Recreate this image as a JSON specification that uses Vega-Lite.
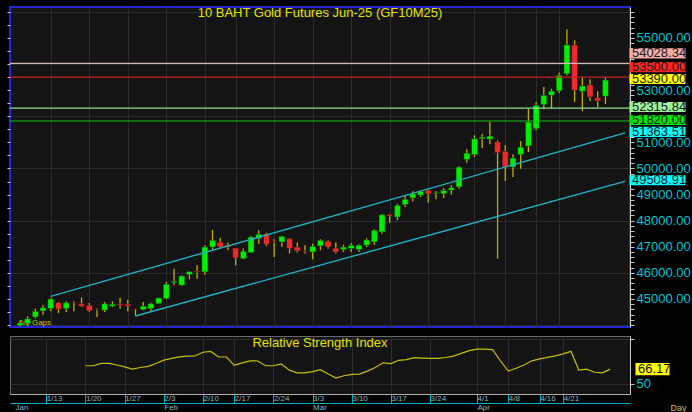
{
  "$schema": "https://vega.github.io/schema/vega-lite/v6.json",
  "background": "#000000",
  "padding": {"left": 5, "top": 4, "right": 3, "bottom": 0},
  "spacing": 1,
  "config": {
    "font": "Liberation Sans",
    "view": {"fill": "#141414", "stroke": null},
    "axis": {"labelFont": "Liberation Sans", "titleFont": "Liberation Sans"}
  },
  "datasets": {
    "ohlc": [
      {"i":0,"date":"2025-01-07","o":43980,"h":44150,"l":43950,"c":44080},
      {"i":1,"date":"2025-01-08","o":44054,"h":44337,"l":43966,"c":44245},
      {"i":2,"date":"2025-01-09","o":44310,"h":44630,"l":44250,"c":44530},
      {"i":3,"date":"2025-01-10","o":44540,"h":44760,"l":44400,"c":44670},
      {"i":4,"date":"2025-01-13","o":44630,"h":45050,"l":44530,"c":45000},
      {"i":5,"date":"2025-01-14","o":44860,"h":44890,"l":44460,"c":44600},
      {"i":6,"date":"2025-01-15","o":44628,"h":44910,"l":44500,"c":44858},
      {"i":7,"date":"2025-01-16","o":44870,"h":44910,"l":44530,"c":44850},
      {"i":8,"date":"2025-01-17","o":44820,"h":45050,"l":44690,"c":44720},
      {"i":9,"date":"2025-01-20","o":44760,"h":44846,"l":44500,"c":44540},
      {"i":10,"date":"2025-01-21","o":44600,"h":44640,"l":44310,"c":44580},
      {"i":11,"date":"2025-01-22","o":44567,"h":44885,"l":44500,"c":44820},
      {"i":12,"date":"2025-01-23","o":44720,"h":44910,"l":44690,"c":44800},
      {"i":13,"date":"2025-01-24","o":44820,"h":45050,"l":44628,"c":44760},
      {"i":14,"date":"2025-01-27","o":44800,"h":44970,"l":44530,"c":44720},
      {"i":15,"date":"2025-01-28","o":44620,"h":44640,"l":44350,"c":44600},
      {"i":16,"date":"2025-01-29","o":44590,"h":44885,"l":44570,"c":44730},
      {"i":17,"date":"2025-01-30","o":44628,"h":44860,"l":44530,"c":44820},
      {"i":18,"date":"2025-01-31","o":44820,"h":45065,"l":44810,"c":45040},
      {"i":19,"date":"2025-02-03","o":45010,"h":45650,"l":44990,"c":45563},
      {"i":20,"date":"2025-02-04","o":45625,"h":46160,"l":45525,"c":45680},
      {"i":21,"date":"2025-02-05","o":45525,"h":45910,"l":45500,"c":45880},
      {"i":22,"date":"2025-02-06","o":45930,"h":46060,"l":45755,"c":46050},
      {"i":23,"date":"2025-02-07","o":46070,"h":46290,"l":45780,"c":46035},
      {"i":24,"date":"2025-02-10","o":46035,"h":47060,"l":45930,"c":46990},
      {"i":25,"date":"2025-02-11","o":46990,"h":47650,"l":46890,"c":47250},
      {"i":26,"date":"2025-02-13","o":47180,"h":47350,"l":46930,"c":46990},
      {"i":27,"date":"2025-02-14","o":47060,"h":47160,"l":46870,"c":46990},
      {"i":28,"date":"2025-02-17","o":46950,"h":46950,"l":46290,"c":46570},
      {"i":29,"date":"2025-02-18","o":46545,"h":46930,"l":46520,"c":46830},
      {"i":30,"date":"2025-02-19","o":46775,"h":47410,"l":46775,"c":47375},
      {"i":31,"date":"2025-02-20","o":47310,"h":47630,"l":47120,"c":47480},
      {"i":32,"date":"2025-02-21","o":47500,"h":47540,"l":47030,"c":47095},
      {"i":33,"date":"2025-02-24","o":47200,"h":47290,"l":46610,"c":47180},
      {"i":34,"date":"2025-02-25","o":47185,"h":47420,"l":46990,"c":47400},
      {"i":35,"date":"2025-02-26","o":47310,"h":47340,"l":46740,"c":46930},
      {"i":36,"date":"2025-02-27","o":46990,"h":47160,"l":46780,"c":46840},
      {"i":37,"date":"2025-02-28","o":46840,"h":47060,"l":46740,"c":46810},
      {"i":38,"date":"2025-03-03","o":46800,"h":47120,"l":46520,"c":47020},
      {"i":39,"date":"2025-03-04","o":47030,"h":47290,"l":46870,"c":47250},
      {"i":40,"date":"2025-03-05","o":47210,"h":47250,"l":46930,"c":46990},
      {"i":41,"date":"2025-03-06","o":46950,"h":47160,"l":46740,"c":46800},
      {"i":42,"date":"2025-03-07","o":46890,"h":47080,"l":46800,"c":46990},
      {"i":43,"date":"2025-03-10","o":46930,"h":47145,"l":46800,"c":47060},
      {"i":44,"date":"2025-03-11","o":46890,"h":47100,"l":46800,"c":47060},
      {"i":45,"date":"2025-03-12","o":47060,"h":47330,"l":46990,"c":47260},
      {"i":46,"date":"2025-03-13","o":47185,"h":47670,"l":47080,"c":47630},
      {"i":47,"date":"2025-03-14","o":47570,"h":48256,"l":47500,"c":48230},
      {"i":48,"date":"2025-03-17","o":48230,"h":48260,"l":47920,"c":48170},
      {"i":49,"date":"2025-03-18","o":48140,"h":48650,"l":48015,"c":48590},
      {"i":50,"date":"2025-03-19","o":48610,"h":48970,"l":48520,"c":48820},
      {"i":51,"date":"2025-03-20","o":48870,"h":49125,"l":48740,"c":49030},
      {"i":52,"date":"2025-03-21","o":48970,"h":49165,"l":48910,"c":49125},
      {"i":53,"date":"2025-03-24","o":49165,"h":49200,"l":48690,"c":49030},
      {"i":54,"date":"2025-03-25","o":49035,"h":49125,"l":48820,"c":49070},
      {"i":55,"date":"2025-03-26","o":49030,"h":49250,"l":48870,"c":49165},
      {"i":56,"date":"2025-03-27","o":49165,"h":49355,"l":48995,"c":49265},
      {"i":57,"date":"2025-03-28","o":49290,"h":50095,"l":49225,"c":50055},
      {"i":58,"date":"2025-03-31","o":50340,"h":50735,"l":50220,"c":50590},
      {"i":59,"date":"2025-04-01","o":50530,"h":51270,"l":50440,"c":51140},
      {"i":60,"date":"2025-04-02","o":51140,"h":51330,"l":50785,"c":51205},
      {"i":61,"date":"2025-04-03","o":51120,"h":51780,"l":50925,"c":51245},
      {"i":62,"date":"2025-04-04","o":51015,"h":51080,"l":46545,"c":50605},
      {"i":63,"date":"2025-04-08","o":50660,"h":50890,"l":49520,"c":50055},
      {"i":64,"date":"2025-04-09","o":50055,"h":50545,"l":49675,"c":50400},
      {"i":65,"date":"2025-04-10","o":50530,"h":51050,"l":49990,"c":50820},
      {"i":66,"date":"2025-04-11","o":50860,"h":52290,"l":50630,"c":51780},
      {"i":67,"date":"2025-04-16","o":51525,"h":52550,"l":51460,"c":52420},
      {"i":68,"date":"2025-04-17","o":52445,"h":53120,"l":52270,"c":52805},
      {"i":69,"date":"2025-04-18","o":52805,"h":53055,"l":52320,"c":52970},
      {"i":70,"date":"2025-04-21","o":52970,"h":53670,"l":52890,"c":53570},
      {"i":71,"date":"2025-04-22","o":53630,"h":55330,"l":53570,"c":54740},
      {"i":72,"date":"2025-04-23","o":54740,"h":54910,"l":52550,"c":52995},
      {"i":73,"date":"2025-04-24","o":52955,"h":53505,"l":52190,"c":53160},
      {"i":74,"date":"2025-04-25","o":53210,"h":53415,"l":52585,"c":52740},
      {"i":75,"date":"2025-04-28","o":52710,"h":52960,"l":52355,"c":52585},
      {"i":76,"date":"2025-04-29","o":52765,"h":53505,"l":52470,"c":53390}
    ],
    "rsi": [
      {"i":9,"rsi":69.97},{"i":10,"rsi":69.97},{"i":11,"rsi":72.64},{"i":12,"rsi":72.64},
      {"i":13,"rsi":70.83},{"i":14,"rsi":68.64},{"i":15,"rsi":66.26},{"i":16,"rsi":67.98},
      {"i":17,"rsi":69.31},{"i":18,"rsi":72.54},{"i":19,"rsi":76.26},{"i":20,"rsi":78.16},
      {"i":21,"rsi":79.97},{"i":22,"rsi":80.73},{"i":23,"rsi":80.92},{"i":24,"rsi":85.11},
      {"i":25,"rsi":86.06},{"i":26,"rsi":79.78},{"i":27,"rsi":79.78},{"i":28,"rsi":70.36},
      {"i":29,"rsi":73.12},{"i":30,"rsi":75.49},{"i":31,"rsi":75.30},{"i":32,"rsi":69.97},
      {"i":33,"rsi":69.97},{"i":34,"rsi":72.07},{"i":35,"rsi":65.12},{"i":36,"rsi":61.98},
      {"i":37,"rsi":61.89},{"i":38,"rsi":63.31},{"i":39,"rsi":65.60},{"i":40,"rsi":60.74},
      {"i":41,"rsi":56.18},{"i":42,"rsi":58.74},{"i":43,"rsi":60.36},{"i":44,"rsi":60.55},
      {"i":45,"rsi":63.88},{"i":46,"rsi":68.07},{"i":47,"rsi":73.21},{"i":48,"rsi":72.35},
      {"i":49,"rsi":76.07},{"i":50,"rsi":76.92},{"i":51,"rsi":79.02},{"i":52,"rsi":78.54},
      {"i":53,"rsi":78.25},{"i":54,"rsi":78.25},{"i":55,"rsi":79.21},{"i":56,"rsi":80.82},
      {"i":57,"rsi":83.87},{"i":58,"rsi":87.01},{"i":59,"rsi":88.72},{"i":60,"rsi":88.72},
      {"i":61,"rsi":88.15},{"i":62,"rsi":75.30},{"i":63,"rsi":63.88},{"i":64,"rsi":67.21},
      {"i":65,"rsi":70.83},{"i":66,"rsi":75.49},{"i":67,"rsi":77.59},{"i":68,"rsi":79.40},
      {"i":69,"rsi":81.01},{"i":70,"rsi":83.39},{"i":71,"rsi":86.15},{"i":72,"rsi":65.12},
      {"i":73,"rsi":66.17},{"i":74,"rsi":62.65},{"i":75,"rsi":61.98},{"i":76,"rsi":66.17}
    ],
    "levels": [
      {"name":"Resistance 2","price":54028.34},
      {"name":"Resistance 1","price":53500},
      {"name":"Support 1","price":52315.84},
      {"name":"Support 2","price":51820}
    ],
    "channel": [
      {"name":"Upper channel","i":4,"price":45103},
      {"name":"Upper channel","i":78.54,"price":51363.51},
      {"name":"Lower channel","i":15,"price":44349},
      {"name":"Lower channel","i":78.54,"price":49508.91}
    ],
    "tags": [
      {"name":"Resistance 2","price":54028.34},
      {"name":"Resistance 1","price":53500},
      {"name":"Last","price":53390},
      {"name":"Support 1","price":52315.84},
      {"name":"Support 2","price":51820},
      {"name":"Upper channel","price":51363.51},
      {"name":"Lower channel","price":49508.91}
    ],
    "rsiTag": [{"name":"RSI","rsi":66.17}]
  },
  "vconcat": [
    {
      "width": 620,
      "height": 320,
      "view": {"fill": "#141414", "stroke": "#2626d8", "strokeWidth": 2},
      "title": {"text": "10 BAHT Gold Futures Jun-25 (GF10M25)", "color": "#e3e300", "fontSize": 13, "fontWeight": "normal", "anchor": "middle", "baseline": "top", "offset": -14},
      "resolve": {"axis": {"y": "independent"}},
      "layer": [
        {
          "data": {"name": "ohlc"},
          "mark": {"type": "rule", "color": "#c4b000", "strokeWidth": 1.3},
          "encoding": {
            "x": {"field": "i", "type": "quantitative", "scale": {"domain": [-0.64, 78.54], "nice": false, "zero": false},
              "axis": {"orient": "bottom", "values": [4,9,14,19,24,28,33,38,43,48,53,59,63,67,70], "labels": false, "ticks": false, "domain": false, "grid": true, "gridColor": "#2c2c2c", "title": "No Gaps", "titleX": 9, "titleY": -3, "titleAlign": "left", "titleBaseline": "alphabetic", "titleColor": "#c8c800", "titleFontSize": 8, "titleFontWeight": "normal"}},
            "y": {"field": "l", "type": "quantitative", "scale": {"domain": [43927, 56187], "nice": false, "zero": false},
              "axis": {"orient": "left", "values": [44000,44500,45000,45500,46000,46500,47000,47500,48000,48500,49000,49500,50000,50500,51000,51500,52000,52500,53000,53500,54000,54500,55000,55500,56000], "labels": false, "domain": false, "grid": false, "tickSize": 3, "tickColor": "#c8c8c8", "title": null}},
            "y2": {"field": "h"}
          }
        },
        {
          "data": {"name": "ohlc"},
          "mark": {"type": "bar", "width": 6, "stroke": "#0a0a0a", "strokeWidth": 0.4},
          "encoding": {
            "x": {"field": "i", "type": "quantitative", "scale": {"domain": [-0.64, 78.54], "nice": false, "zero": false}},
            "y": {"field": "o", "type": "quantitative", "scale": {"domain": [43927, 56187], "nice": false, "zero": false},
              "axis": {"orient": "right", "values": [44000,44200,44400,44600,44800,45000,45200,45400,45600,45800,46000,46200,46400,46600,46800,47000,47200,47400,47600,47800,48000,48200,48400,48600,48800,49000,49200,49400,49600,49800,50000,50200,50400,50600,50800,51000,51200,51400,51600,51800,52000,52200,52400,52600,52800,53000,53200,53400,53600,53800,54000,54200,54400,54600,54800,55000,55200,55400,55600,55800,56000],
                "labelExpr": "(datum.value % 1000 === 0 && datum.value >= 45000 && datum.value <= 55000 && datum.value != 52000 && datum.value != 54000) ? format(datum.value, '.2f') : ''",
                "labelColor": "#00c6d2", "labelFontSize": 13, "labelPadding": 2, "labelOverlap": false, "labelBound": false, "labelFlush": false,
                "tickSize": 4, "tickColor": "#c8c8c8", "domainColor": "#d0d0d0",
                "grid": true, "gridColor": "#2c2c2c", "gridOpacity": {"condition": {"test": "datum.value % 2000 === 0", "value": 1}, "value": 0},
                "title": null}},
            "y2": {"field": "c"},
            "color": {"condition": {"test": "datum.c >= datum.o", "value": "#00ee00"}, "value": "#ee2a2a"}
          }
        },
        {
          "data": {"name": "levels"},
          "mark": {"type": "rule", "strokeWidth": 1.2},
          "encoding": {
            "y": {"field": "price", "type": "quantitative", "scale": {"domain": [43927, 56187], "nice": false, "zero": false}, "axis": null},
            "stroke": {"field": "name", "type": "nominal", "legend": null,
              "scale": {"domain": ["Resistance 2","Resistance 1","Support 1","Support 2","Upper channel","Lower channel"], "range": ["#d8b4b4","#c42020","#8fe08f","#12c012","#20b0c2","#20b0c2"]}}
          }
        },
        {
          "data": {"name": "channel"},
          "mark": {"type": "line", "strokeWidth": 1.4},
          "encoding": {
            "x": {"field": "i", "type": "quantitative", "scale": {"domain": [-0.64, 78.54], "nice": false, "zero": false}},
            "y": {"field": "price", "type": "quantitative", "scale": {"domain": [43927, 56187], "nice": false, "zero": false}, "axis": null},
            "stroke": {"field": "name", "type": "nominal", "legend": null}
          }
        },
        {
          "data": {"name": "tags"},
          "transform": [{"filter": "datum.name == 'Resistance 2' || datum.name == 'Resistance 1'"}],
          "layer": [
            {"mark": {"type": "point", "shape": "M-1,-0.18L1,-0.18L1,0.18L-1,0.18Z", "size": 3136, "filled": true, "opacity": 1, "yOffset": -10}},
            {"mark": {"type": "text", "align": "left", "baseline": "middle", "fontSize": 13, "color": "#1a1a1a", "yOffset": -10},
             "encoding": {"x": {"datum": 79.44, "type": "quantitative"}, "text": {"field": "price", "type": "quantitative", "format": ".2f"}, "fill": {"value": "#1a1a1a"}}}
          ],
          "encoding": {
            "x": {"datum": 82.76, "type": "quantitative", "scale": {"domain": [-0.64, 78.54], "nice": false, "zero": false}},
            "y": {"field": "price", "type": "quantitative", "scale": {"domain": [43927, 56187], "nice": false, "zero": false}, "axis": null},
            "fill": {"field": "name", "type": "nominal", "legend": null,
              "scale": {"domain": ["Resistance 2","Resistance 1","Last","Support 1","Support 2","Upper channel","Lower channel"], "range": ["#f6aca4","#ff2424","#ffff00","#9af29a","#00e400","#00ffff","#00ffff"]}}
          }
        },
        {
          "data": {"name": "tags"},
          "transform": [{"filter": "datum.name != 'Resistance 2' && datum.name != 'Resistance 1'"}],
          "layer": [
            {"mark": {"type": "point", "shape": "M-1,-0.18L1,-0.18L1,0.18L-1,0.18Z", "size": 3136, "filled": true, "opacity": 1, "yOffset": -1}},
            {"mark": {"type": "text", "align": "left", "baseline": "middle", "fontSize": 13, "yOffset": -1},
             "encoding": {"x": {"datum": 79.44, "type": "quantitative"}, "text": {"field": "price", "type": "quantitative", "format": ".2f"}, "fill": {"value": "#1a1a1a"}}}
          ],
          "encoding": {
            "x": {"datum": 82.76, "type": "quantitative", "scale": {"domain": [-0.64, 78.54], "nice": false, "zero": false}},
            "y": {"field": "price", "type": "quantitative", "scale": {"domain": [43927, 56187], "nice": false, "zero": false}, "axis": null},
            "fill": {"field": "name", "type": "nominal", "legend": null}
          }
        }
      ]
    },
    {
      "width": 620,
      "height": 58,
      "view": {"fill": "#141414", "stroke": "#6a6a6a", "strokeWidth": 1},
      "title": {"text": "Relative Strength Index", "color": "#e3e300", "fontSize": 13, "fontWeight": "normal", "anchor": "middle", "baseline": "top", "offset": -14},
      "resolve": {"axis": {"x": "independent", "y": "independent"}},
      "layer": [
        {
          "data": {"name": "rsi"},
          "mark": {"type": "line", "color": "#c8c000", "strokeWidth": 1.2},
          "encoding": {
            "x": {"field": "i", "type": "quantitative", "scale": {"domain": [-0.64, 78.54], "nice": false, "zero": false},
              "axis": {"orient": "bottom", "values": [4,9,14,19,24,28,33,38,43,48,53,59,63,67,70],
                "labelExpr": "['1/13','1/20','1/27','2/3','2/10','2/17','2/24','3/3','3/10','3/17','3/24','4/1','4/8','4/16','4/21'][indexof([4,9,14,19,24,28,33,38,43,48,53,59,63,67,70], datum.value)]",
                "grid": true, "gridColor": "#2c2c2c", "domainColor": "#b0b0b0", "tickColor": "#00b4c8", "tickSize": 9,
                "labelAlign": "left", "labelDx": 2, "labelBaseline": "middle", "labelPadding": -5, "labelFontSize": 8, "labelColor": "#8fb8c0",
                "labelOverlap": false, "labelFlush": false, "labelBound": false, "title": null}},
            "y": {"field": "rsi", "type": "quantitative", "scale": {"domain": [38.2, 103.4], "nice": false, "zero": false},
              "axis": {"orient": "right", "values": [50, 100], "labelExpr": "datum.value == 50 ? '50' : ''", "labelColor": "#00c6d2", "labelFontSize": 13, "labelPadding": 2, "tickSize": 4, "tickColor": "#c8c8c8", "domainColor": "#d0d0d0", "grid": true, "gridColor": "#2c2c2c", "title": null}}
          }
        },
        {
          "data": {"name": "rsiTag"},
          "layer": [
            {"mark": {"type": "point", "shape": "M-1,-0.36L1,-0.36L1,0.36L-1,0.36Z", "size": 1156, "filled": true, "opacity": 1, "color": "#ffff00"},
             "encoding": {"x": {"datum": 81.41, "type": "quantitative"}}},
            {"mark": {"type": "text", "align": "left", "baseline": "middle", "fontSize": 13, "color": "#111111"},
             "encoding": {"x": {"datum": 79.56, "type": "quantitative"},
               "text": {"field": "rsi", "type": "quantitative", "format": ".2f"}}}
          ],
          "encoding": {
            "x": {"datum": 81.41, "type": "quantitative", "scale": {"domain": [-0.64, 78.54], "nice": false, "zero": false},
               "axis": {"orient": "bottom", "offset": 9, "values": [0,19,38,59], "labelExpr": "['Jan','Feb','Mar','Apr'][indexof([0,19,38,59], datum.value)]",
                 "grid": false, "ticks": false, "domainColor": "#00b4c8", "labelAlign": "left", "labelDx": 2, "labelBaseline": "middle", "labelPadding": 4,
                 "labelFontSize": 8, "labelColor": "#8fb8c0", "labelOverlap": false, "labelFlush": false, "labelBound": false,
                 "title": "Day", "titleX": 660, "titleY": 4, "titleAlign": "left", "titleBaseline": "middle", "titleColor": "#c8b878", "titleFontSize": 9, "titleFontWeight": "normal"}},
            "y": {"field": "rsi", "type": "quantitative", "scale": {"domain": [38.2, 103.4], "nice": false, "zero": false}, "axis": null}
          }
        }
      ]
    }
  ]
}
